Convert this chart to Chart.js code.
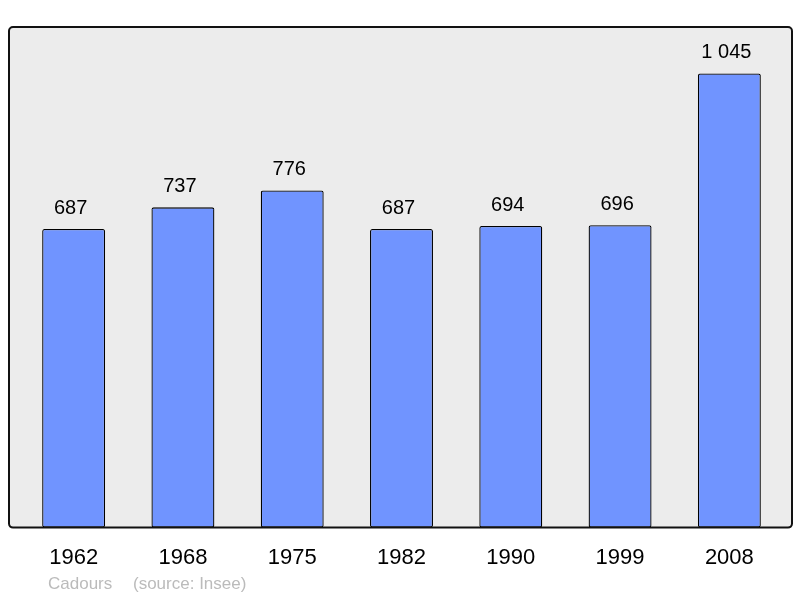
<!DOCTYPE html>
<html lang="fr">
<head>
<meta charset="utf-8">
<title>Cadours - population</title>
<script src="https://cdn.jsdelivr.net/npm/chart.js@4.4.1/dist/chart.umd.min.js"></script>
<style>
  html, body { margin: 0; padding: 0; background: #fff; }
  .wrap { width: 800px; height: 598px; }
</style>
</head>
<body>
<div class="wrap"><canvas id="pop"></canvas></div>
<script>
// population figures
const years = ['1962', '1968', '1975', '1982', '1990', '1999', '2008'];
const population = [687, 737, 776, 687, 694, 696, 1045];
const commune = 'Cadours';
const source = '(source: Insee)';

function fmt(n) {
  return String(n).replace(/\B(?=(\d{3})+(?!\d))/g, ' ');
}

// grey panel with a dark frame behind the bars
const panel = {
  id: 'panel',
  beforeDatasetsDraw(chart) {
    const { ctx, chartArea: a } = chart;
    const x = a.left - 10, y = a.top, w = a.right + 8 - x, h = a.bottom - a.top;
    ctx.save();
    ctx.beginPath();
    ctx.roundRect(x, y, w, h, 4);
    ctx.fillStyle = '#ececec';
    ctx.fill();
    ctx.restore();
  },
  afterDatasetsDraw(chart) {
    const { ctx, chartArea: a } = chart;
    const x = a.left - 10, y = a.top, w = a.right + 8 - x, h = a.bottom - a.top;
    ctx.save();
    ctx.beginPath();
    ctx.roundRect(x, y, w, h, 4);
    ctx.lineWidth = 2;
    ctx.strokeStyle = '#111';
    ctx.stroke();

    // value labels over the bars
    const meta = chart.getDatasetMeta(0);
    ctx.fillStyle = '#000';
    ctx.font = '20px "Liberation Sans", Arial, sans-serif';
    ctx.textAlign = 'center';
    ctx.textBaseline = 'alphabetic';
    meta.data.forEach((bar, i) => {
      ctx.fillText(fmt(population[i]), bar.x - 3, bar.y - 15);
    });

    // footer
    ctx.fillStyle = '#bbbbbb';
    ctx.font = '17px "Liberation Sans", Arial, sans-serif';
    ctx.textAlign = 'left';
    ctx.fillText(commune, a.left + 29, 589);
    ctx.fillText(source, a.left + 114, 589);
    ctx.restore();
  }
};

new Chart(document.getElementById('pop'), {
  type: 'bar',
  data: {
    labels: years,
    datasets: [{
      data: population,
      backgroundColor: '#7094ff',
      borderColor: '#000',
      borderWidth: 1.3,
      borderRadius: 2,
      borderSkipped: false,
      barPercentage: 0.576,
      categoryPercentage: 1
    }]
  },
  options: {
    responsive: true,
    maintainAspectRatio: false,
    animation: false,
    layout: { padding: { left: 19, right: 16, top: 27, bottom: 18 } },
    plugins: { legend: { display: false }, tooltip: { enabled: false } },
    scales: {
      x: {
        grid: { display: false },
        border: { display: false },
        ticks: {
          color: '#000',
          padding: 9,
          font: { size: 22, family: '"Liberation Sans", Arial, sans-serif' }
        }
      },
      y: {
        display: false,
        min: 0,
        max: 1152
      }
    }
  },
  plugins: [panel]
});
</script>
</body>
</html>
